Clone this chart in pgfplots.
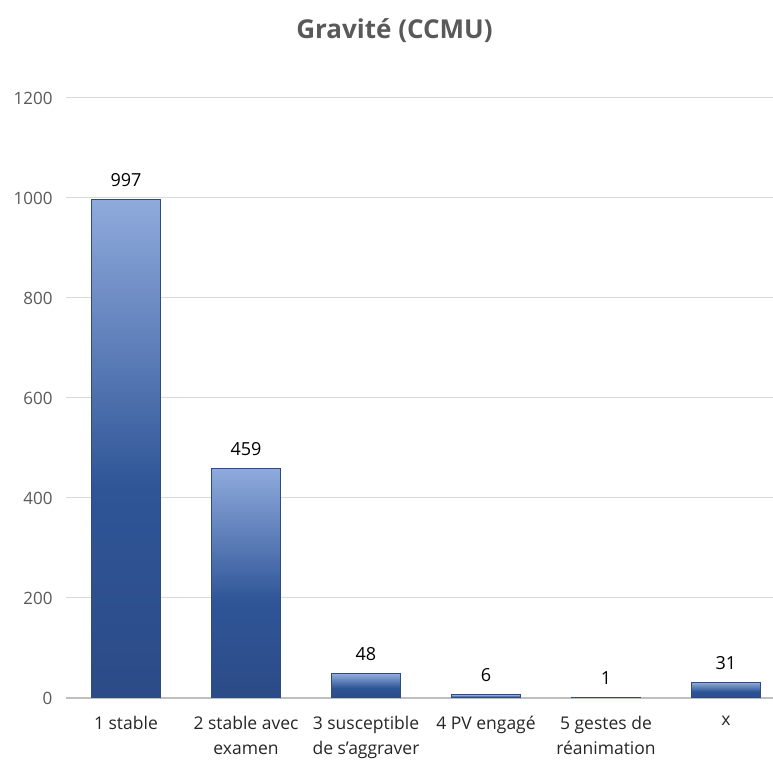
\documentclass[border=0pt]{standalone}
\usepackage{pgfplots}
\pgfplotsset{compat=1.18}
\usepackage{fontspec}
\setmainfont{Open Sans}

\definecolor{bartop}{HTML}{8FAADC}
\definecolor{barmid}{HTML}{2F5597}
\definecolor{barbot}{HTML}{2C4B87}
\definecolor{baredge}{HTML}{2F4A80}
\definecolor{gridgray}{HTML}{D9D9D9}
\definecolor{txtgray}{HTML}{595959}

% bottom -> top, path mapped onto 25bp..75bp
\pgfdeclareverticalshading{barshade}{100bp}{color(0bp)=(barbot); color(25bp)=(barbot); color(46bp)=(barmid); color(75bp)=(bartop); color(100bp)=(bartop)}

\pgfplotsset{gbar/.style={draw=baredge, line width=1pt, shading=barshade}}

\begin{document}
\begin{tikzpicture}
\path[use as bounding box] (-66pt,-64pt) rectangle (707pt,698pt);
\begin{axis}[
    at={(0pt,0pt)}, anchor=south west,
    scale only axis,
    width=707pt, height=600pt,
    ybar, bar width=0.58, bar shift=0pt,
    xmin=-0.5, xmax=5.392,
    ymin=0, ymax=1200,
    ytick={0,200,...,1200},
    xtick={0,...,5},
    xticklabels={1 stable, 2 stable avec\\examen, 3 susceptible\\de s'aggraver, 4 PV engagé, 5 gestes de\\réanimation, x},
    xticklabel style={align=center, font=\fontsize{17.5}{25}\selectfont, text=black!85, yshift=-15pt},
    yticklabel style={font=\fontsize{17}{19}\selectfont, text=txtgray, xshift=-10pt},
    /pgf/number format/assume math mode=true,
    /pgf/number format/1000 sep={},
    axis line style={draw=none},
    major tick length=0pt,
    ymajorgrids, grid style={gridgray, line width=1pt},
    extra y ticks={0}, extra y tick labels={},
    extra y tick style={grid style={black!25, line width=1.2pt}},
    nodes near coords,
    nodes near coords style={font=\fontsize{18}{20}\selectfont, text=black, yshift=9pt},
    title={Gravité (CCMU)},
    title style={font=\bfseries\fontsize{26}{30}\selectfont, text=txtgray, yshift=46pt, xshift=-25pt},
    clip=false,
]
% one plot per bar so that each bar gets its own gradient
\addplot[gbar] coordinates {(0,997)};
\addplot[gbar] coordinates {(1,459)};
\addplot[gbar] coordinates {(2,48)};
\addplot[gbar] coordinates {(3,6)};
\addplot[gbar] coordinates {(4,1)};
\addplot[gbar] coordinates {(5,31)};
\end{axis}
\end{tikzpicture}
\end{document}
